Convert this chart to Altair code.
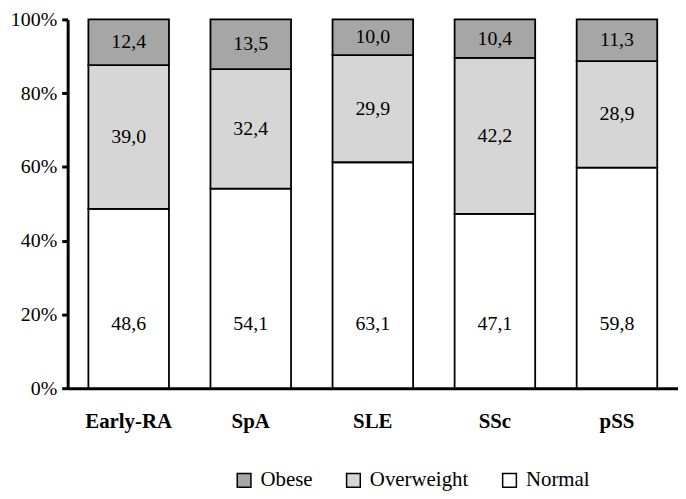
import altair as alt
import pandas as pd

categories = ["Early-RA", "SpA", "SLE", "SSc", "pSS"]
groups = ["Normal", "Overweight", "Obese"]
normal = [48.6, 54.1, 63.1, 47.1, 59.8]
overweight = [39.0, 32.4, 29.9, 42.2, 28.9]
obese = [12.4, 13.5, 10.0, 10.4, 11.3]
legend_order = ["Obese", "Overweight", "Normal"]
colors = ["#a6a6a6", "#d6d6d6", "#ffffff"]
y_ticks = [0, 0.2, 0.4, 0.6, 0.8, 1.0]

rows = []
for i, cat in enumerate(categories):
    for k, (g, vals) in enumerate(zip(groups, [normal, overweight, obese])):
        v = vals[i]
        rows.append({"category": cat, "group": g, "value": v, "order": k,
                     "label": f"{v:.1f}".replace(".", ",")})
df = pd.DataFrame(rows)

FONT = "Liberation Serif"

base = alt.Chart(df)

x_enc = alt.X("category:N", sort=categories, title=None,
              scale=alt.Scale(paddingInner=0.34, paddingOuter=0.17),
              axis=alt.Axis(labelAngle=0, ticks=False, labelFontWeight="bold",
                            labelFontSize=21, labelPadding=23, domainWidth=3,
                            domainColor="black", labelColor="black", labelFont=FONT))

bars = base.mark_bar(stroke="black", strokeWidth=1.8).encode(
    x=x_enc,
    y=alt.Y("value:Q", stack="normalize", title=None,
            scale=alt.Scale(domain=[0, 1]),
            axis=alt.Axis(format=".0%", values=y_ticks, grid=False, domainWidth=3,
                          domainColor="black", tickColor="black", tickWidth=3,
                          tickSize=6, labelPadding=5, labelFontSize=20,
                          labelColor="black", labelFont=FONT)),
    color=alt.Color("group:N",
                    scale=alt.Scale(domain=legend_order, range=colors),
                    legend=alt.Legend(title=None, orient="none", direction="horizontal",
                                      legendX=167, legendY=453,
                                      symbolType="square", symbolSize=190,
                                      symbolStrokeColor="black", symbolStrokeWidth=1.5,
                                      labelFontSize=21, labelFont=FONT, labelColor="black",
                                      labelOffset=6, columnPadding=30)),
    order=alt.Order("order:Q", sort="ascending"),
)

labels = base.transform_joinaggregate(
    total="sum(value)", groupby=["category"]
).transform_window(
    cum="sum(value)", groupby=["category"], sort=[alt.SortField("order")], frame=[None, 0]
).transform_calculate(
    mid="datum.group == 'Normal' ? 0.175 : (datum.cum - datum.value / 2) / datum.total"
).mark_text(font=FONT, fontSize=20, color="black", baseline="middle").encode(
    x=alt.X("category:N", sort=categories),
    y=alt.Y("mid:Q"),
    text="label:N",
)

chart = alt.layer(bars, labels).properties(
    width=614, height=371,
    autosize=alt.AutoSizeParams(type="none"),
    padding={"left": 60, "top": 10, "right": 0, "bottom": 108},
).configure_view(stroke=None)

chart.save("out.html", embed_options={"renderer": "svg", "actions": False})
